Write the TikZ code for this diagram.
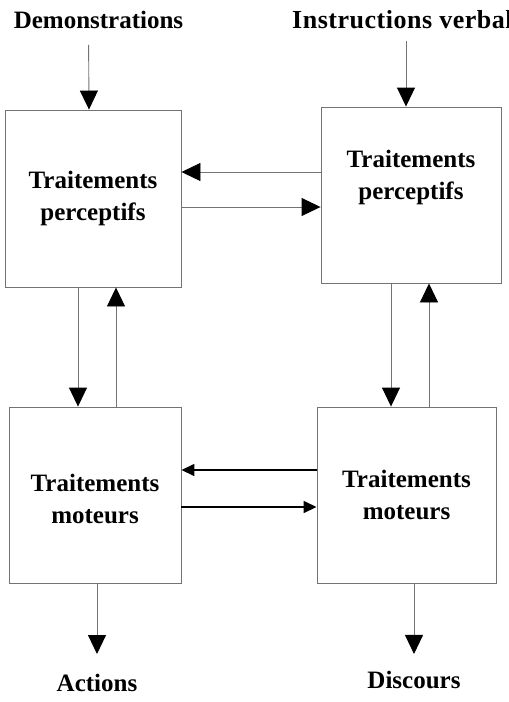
\documentclass[tikz,border=0pt]{standalone}
\usepackage{fontspec}
\setmainfont{Liberation Serif}
\usetikzlibrary{arrows.meta}

\tikzset{
  box/.style={rectangle, draw=black!55, line width=0.9pt, align=center,
    font=\fontsize{25}{32}\selectfont\bfseries},
  lbl/.style={inner sep=0pt, font=\fontsize{25}{30}\selectfont\bfseries},
  arr/.style={draw=black!55, line width=0.9pt,
    -{Triangle[length=19pt,width=18pt,color=black]}},
  arrb/.style={draw=black, line width=1.5pt, -{Triangle[length=13pt,width=12pt]}}
}

\begin{document}
\begin{tikzpicture}[x=1pt,y=-1pt]
  \useasboundingbox (0,0) rectangle (509,702);
  % boxes
  \node[box, minimum width=176pt, minimum height=177pt] (tlp) at (93,198.5) {Traitements\\perceptifs};
  \node[box, minimum width=180pt, minimum height=176pt] (trp) at (411,195) {Traitements\\perceptifs\\[8pt]};
  \node[box, minimum width=172pt, minimum height=176pt] (blm) at (95,495) {\\[-6pt]Traitements\\moteurs};
  \node[box, minimum width=179pt, minimum height=176pt] (brm) at (406.5,495) {Traitements\\moteurs};
  % inputs and outputs
  \node[lbl] (dem) at (98.5,20) {Demonstrations};
  \node[lbl, anchor=west, font=\fontsize{26}{30}\selectfont\bfseries\addfontfeature{LetterSpace=2}] (ins) at (292,20) {Instructions verbal};
  \node[lbl] (act) at (97,683) {Actions};
  \node[lbl] (dis) at (414,680) {Discours};
  \draw[arr, shorten <=16pt] ([xshift=-10pt]dem.south) -- ([xshift=-4pt]tlp.north);
  \draw[arr, shorten <=12pt] (ins.south -| 406,0) -- (trp.north -| 406,0);
  \draw[arr, shorten >=20pt] (blm.south -| act) -- (act.north);
  \draw[arr, shorten >=17pt] (brm.south -| dis) -- (dis.north);
  % perceptifs <-> perceptifs
  \draw[arr] (trp.west |- 0,172) -- (tlp.east |- 0,172);
  \draw[arr] (tlp.east |- 0,207) -- (trp.west |- 0,207);
  % perceptifs <-> moteurs
  \draw[arr] (tlp.south -| 78,0) -- (blm.north -| 78,0);
  \draw[arr] (blm.north -| 116,0) -- (tlp.south -| 116,0);
  \draw[arr] (trp.south -| 391,0) -- (brm.north -| 391,0);
  \draw[arr] (brm.north -| 429,0) -- (trp.south -| 429,0);
  % moteurs <-> moteurs
  \draw[arrb] (brm.west |- 0,470) -- (blm.east |- 0,470);
  \draw[arrb] (blm.east |- 0,507) -- (brm.west |- 0,507);
\end{tikzpicture}
\end{document}
